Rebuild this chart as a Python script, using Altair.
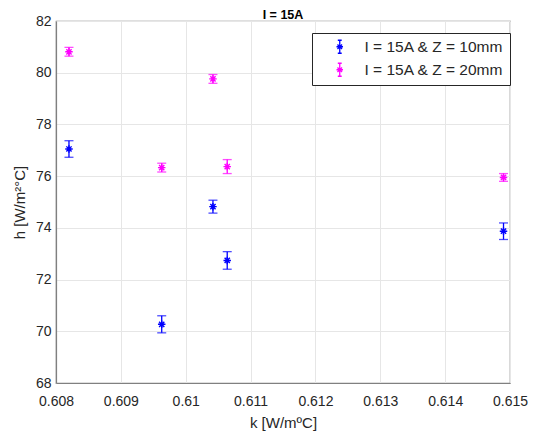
import altair as alt
import pandas as pd

k_values = [0.60820, 0.60963, 0.61042, 0.61064, 0.61490]
h_z10 = [77.05, 70.27, 74.82, 72.74, 73.87]
err_z10 = [0.32, 0.33, 0.25, 0.34, 0.32]
h_z20 = [80.81, 76.33, 79.76, 76.37, 75.95]
err_z20 = [0.17, 0.17, 0.17, 0.27, 0.15]
series = ["I = 15A & Z = 10mm", "I = 15A & Z = 20mm"]
colors = ["#0000ff", "#ff00ff"]

rows = []
for k, h, e in zip(k_values, h_z10, err_z10):
    rows.append({"k": k, "h": h, "lo": h - e, "hi": h + e, "s": series[0]})
for k, h, e in zip(k_values, h_z20, err_z20):
    rows.append({"k": k, "h": h, "lo": h - e, "hi": h + e, "s": series[1]})
df = pd.DataFrame(rows)

star = "M-1,0H1M0,-1V1M-0.7,-0.7L0.7,0.7M-0.7,0.7L0.7,-0.7"
legend_sym = ("M-0.3,-1H0.3M0,-1V1M-0.3,1H0.3"
              "M-0.5,0H0.5M-0.35,-0.35L0.35,0.35M-0.35,0.35L0.35,-0.35")

xenc = alt.X("k:Q", title="k [W/mºC]",
             scale=alt.Scale(domain=[0.608, 0.615], nice=False, zero=False),
             axis=alt.Axis(values=[0.608, 0.609, 0.61, 0.611, 0.612, 0.613, 0.614, 0.615],
                           format=".3~f", labelFlush=False, labelPadding=11,
                           titlePadding=7))
legend = alt.Legend(title=None, orient="none", legendX=256, legendY=12,
                    symbolType=legend_sym, symbolSize=170, symbolStrokeWidth=1.3,
                    symbolOpacity=1,
                    symbolOffset=14, labelOffset=17, labelFontSize=15.5,
                    labelColor="#262626", labelFont="Liberation Sans",
                    strokeColor="#262626", fillColor="white", padding=6,
                    rowPadding=4, labelLimit=300)
cenc = alt.Color("s:N", scale=alt.Scale(domain=series, range=colors), legend=legend)

base = alt.Chart(df)
rules = base.mark_rule(strokeWidth=1.3).encode(
    x=xenc,
    y=alt.Y("lo:Q", title="h [W/m²°C]",
            scale=alt.Scale(domain=[68, 82], nice=False, zero=False),
            axis=alt.Axis(values=[68, 70, 72, 74, 76, 78, 80, 82], labelFlush=False,
                          labelPadding=5, titlePadding=8)),
    y2="hi:Q", color=cenc)
cap_lo = base.mark_tick(size=9, thickness=1.3, orient="horizontal").encode(x=xenc, y="lo:Q", color=cenc)
cap_hi = base.mark_tick(size=9, thickness=1.3, orient="horizontal").encode(x=xenc, y="hi:Q", color=cenc)
pts = base.mark_point(shape=star, size=56, filled=False, strokeWidth=1.4, opacity=1).encode(
    x=xenc, y="h:Q", color=cenc)

chart = alt.layer(rules, cap_lo, cap_hi, pts).properties(
    width=454, height=362,
    title=alt.TitleParams("I = 15A", fontSize=12.5, fontWeight="bold",
                          font="Liberation Sans", color="#000000", offset=3, dy=10),
    autosize=alt.AutoSizeParams(type="none"),
    padding={"left": 48, "top": 13, "right": 19, "bottom": 54},
).configure_view(stroke="#808080", strokeWidth=1.2).configure_axis(
    grid=True, gridColor="#e6e6e6", gridWidth=1,
    domainColor="#808080", domainWidth=1.2,
    ticks=False,
    labelFont="Liberation Sans", labelFontSize=14, labelColor="#262626",
    titleFont="Liberation Sans", titleFontSize=15, titleColor="#262626",
    titleFontWeight="normal",
)

chart.save("out.html", embed_options={"renderer": "svg", "actions": False})
